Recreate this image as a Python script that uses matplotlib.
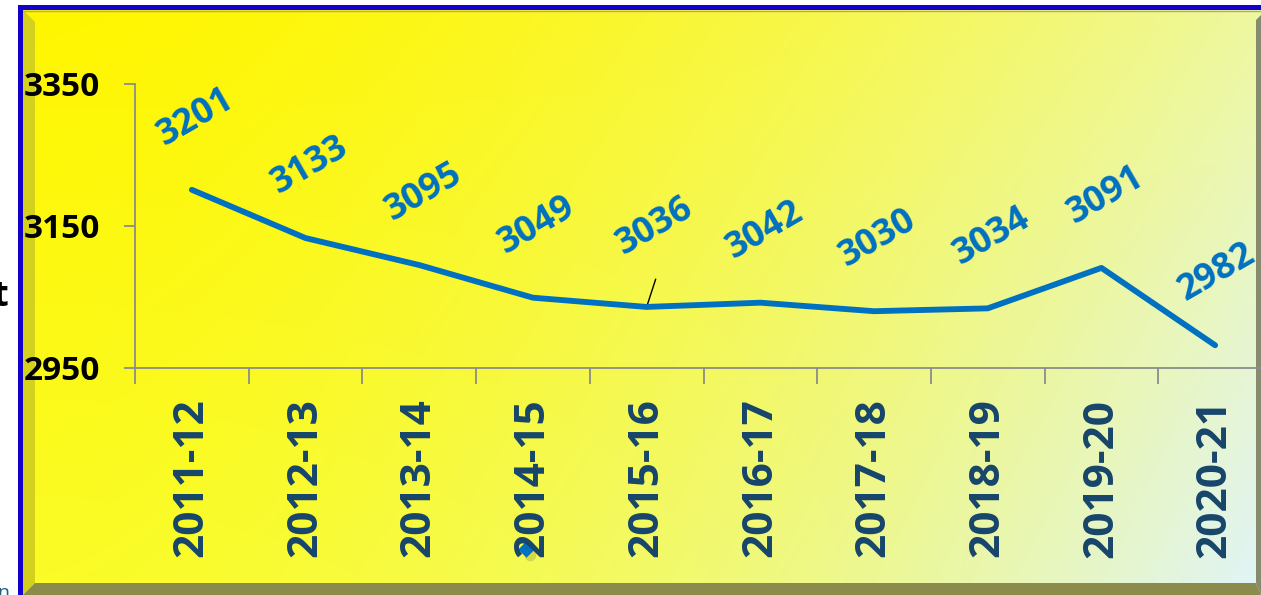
import matplotlib.pyplot as plt
import matplotlib.patches as mpatches
import numpy as np

# chart data
years = ['2011-12', '2012-13', '2013-14', '2014-15', '2015-16',
         '2016-17', '2017-18', '2018-19', '2019-20', '2020-21']
values = [3201, 3133, 3095, 3049, 3036, 3042, 3030, 3034, 3091, 2982]
y_ticks = [2950, 3150, 3350]

BLUE = '#0070C0'
NAVY = '#17456B'
W, H = 1261, 595

plt.rcParams['font.family'] = ['Open Sans', 'DejaVu Sans']
plt.rcParams['font.weight'] = 'bold'

fig = plt.figure(figsize=(W / 100, H / 100), dpi=100)
fig.patch.set_facecolor('white')

# background panel drawn in pixel coordinates
bg = fig.add_axes([0, 0, 1, 1])
bg.set_xlim(0, W)
bg.set_ylim(H, 0)
bg.axis('off')

# gradient: bright yellow on the left to pale cyan in the bottom right corner
tl = np.array([255, 246, 0]) / 255
tr = np.array([238, 248, 160]) / 255
bl = np.array([250, 252, 40]) / 255
br = np.array([224, 244, 248]) / 255
gx = np.linspace(0, 1, 200)[None, :, None]
gy = np.linspace(0, 1, 100)[:, None, None]
gx = gx ** 1.7
grad = (tl * (1 - gx) * (1 - gy) + tr * gx * (1 - gy)
        + bl * (1 - gx) * gy + br * gx * gy)
bg.imshow(np.clip(grad, 0, 1), extent=(23, W, H, 10), aspect='auto',
          interpolation='bicubic', zorder=1)

# bevel edges
bg.add_patch(mpatches.Polygon([(23, 10), (35, 22), (35, 583), (23, 595)],
                              color='#D4D01E', zorder=2, lw=0))
bg.add_patch(mpatches.Polygon([(23, 595), (35, 583), (1256, 583), (W, 595)],
                              color='#8B8B4B', zorder=2, lw=0))
bg.add_patch(mpatches.Polygon([(1256, 20), (W, 15), (W, 595), (1256, 583)],
                              color='#888A6E', zorder=2, lw=0))
bg.plot([23, W], [11, 11], color='#B0A880', lw=1, zorder=2)

# blue frame
bg.add_patch(mpatches.Rectangle((18, 5), W - 18, 5, color='#1400CC', zorder=3, lw=0))
bg.add_patch(mpatches.Rectangle((18, 5), 5, H - 5, color='#1400CC', zorder=3, lw=0))

# fragments of surrounding slide text
fig.text(-0.006, 0.5, 't', fontsize=26, color='black', ha='left', va='center')
fig.text(-0.002, -0.012, 'n', fontsize=14, color='#1F5F7F', weight='normal',
         ha='left', va='bottom')

# line chart
ax = fig.add_axes([135 / W, 227 / H, 1137 / W, 284 / H])
ax.patch.set_alpha(0)
x = np.arange(len(years))
ax.plot(x, values, color=BLUE, lw=4.2, solid_capstyle='round', zorder=5)
ax.set_xlim(-0.5, len(years) - 0.5)
ax.set_ylim(y_ticks[0], y_ticks[-1])

for i, v in enumerate(values):
    if i == 4:
        off = (6, 58)
    elif i == len(values) - 1:
        off = (1, 52)
    else:
        off = (3, 52)
    ax.annotate(str(v), (i, v), xytext=off, textcoords='offset points',
                ha='center', va='center', rotation=30, rotation_mode='anchor',
                fontsize=26, color=BLUE, weight='bold', zorder=6)

# leader line for the 2015-16 label
ax.annotate('', xy=(4, values[4]), xytext=(6.5, 20), textcoords='offset points',
            arrowprops=dict(arrowstyle='-', lw=1, color='black',
                            shrinkA=0, shrinkB=0))

for side in ['top', 'right']:
    ax.spines[side].set_visible(False)
for side in ['left', 'bottom']:
    ax.spines[side].set_color('#8C8C8C')
    ax.spines[side].set_linewidth(1.3)

ax.set_yticks(y_ticks)
ax.set_yticklabels([str(t) for t in y_ticks], fontsize=24, color='black',
                   weight='bold')
ax.tick_params(axis='y', length=8, width=1.3, color='#8C8C8C', pad=17)

ax.set_xticks(x)
ax.set_xticklabels(years, rotation=90, fontsize=30.5, color=NAVY, weight='bold',
                   va='top', ha='center')
ax.tick_params(axis='x', which='major', length=0, pad=22)
ax.set_xticks(np.arange(-0.5, len(years), 1), minor=True)
ax.tick_params(axis='x', which='minor', length=11.5, width=1.3, color='#8C8C8C')

# small blue marker near the 2014-15 label
bg.scatter([530], [555], s=70, color='#505030', alpha=0.2, lw=0, zorder=10)
bg.scatter([526], [549], s=70, marker='D', color=BLUE, lw=0, zorder=11)

fig.savefig('out.png', dpi=100)
